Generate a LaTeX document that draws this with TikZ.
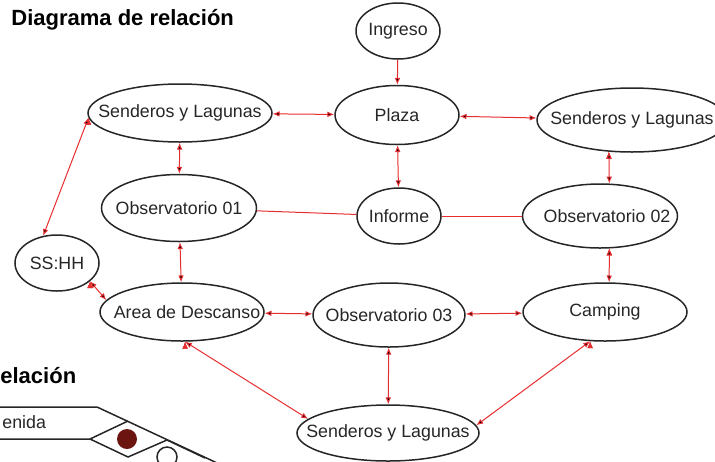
\documentclass[tikz,border=0pt]{standalone}
\usepackage{fontspec}
\setmainfont{Liberation Sans}
\usepackage{tikz}
\usetikzlibrary{arrows.meta,shapes.geometric}
\definecolor{linkred}{RGB}{230,45,48}
\definecolor{dotred}{RGB}{108,20,16}

\begin{document}
\begin{tikzpicture}[x=0.5pt,y=-0.5pt,
  lugar/.style={ellipse,draw=black!85,line width=0.75pt,inner xsep=-14pt,inner ysep=0pt,
    text=black!85,font=\fontsize{8.9}{10}\selectfont},
  chico/.style={lugar,minimum width=42pt,minimum height=28pt},
  plazo/.style={lugar,minimum width=62pt,minimum height=29.5pt},
  medio/.style={lugar,minimum width=77.5pt,minimum height=32pt},
  ancho/.style={lugar,minimum width=82pt,minimum height=29pt},
  largo/.style={lugar,minimum width=92pt,minimum height=29pt},
  tip/.tip={Latex[length=3.4pt,width=2.8pt]},
  doble/.style={draw=linkred,line width=0.5pt,tip-tip},
  flecha/.style={draw=linkred,line width=0.5pt,-tip},
  liso/.style={draw=linkred,line width=0.5pt,-},
  titulo/.style={font=\fontsize{11}{13}\selectfont\bfseries,inner sep=0pt},
  trazo/.style={line width=0.75pt,draw=black!85}]
  \clip (0,0) rectangle (715,461);

  \draw (11,25) node[titulo,anchor=base west] (titulo) {Diagrama de relación};

  % nodos
  \draw (398,31) node[chico] (ingreso) {Ingreso};
  \draw (397,115) node[plazo] (plaza) {Plaza};
  \draw (180,113) node[largo] (sendA) {Senderos y Lagunas};
  \draw (632,120) node[largo,minimum width=95pt,minimum height=32pt] (sendB) {Senderos y Lagunas};
  \draw (179,208) node[medio,minimum height=33.5pt] (obs1) {Observatorio 01};
  \draw (399,216) node[chico] (informe) {Informe};
  \draw (600,216) node[medio] (obs2) {\hspace*{7pt}Observatorio 02};
  \draw (57,263) node[chico] (sshh) {SS:HH};
  \draw (182,312) node[ancho] (area) {\hspace*{5pt}Area de Descanso};
  \draw (389,315) node[medio,minimum width=76pt] (obs3) {Observatorio 03};
  \draw (605,312) node[ancho] (camping) {Camping};
  \draw (388,433) node[largo,minimum width=91pt,minimum height=28pt] (sendC) {Senderos y Lagunas};

  % enlaces
  \path[flecha] (ingreso) edge (plaza);
  \path[doble] (sendA) edge (plaza);
  \path[doble] (plaza) edge (sendB);
  \path[doble] (sendA) edge (obs1);
  \path[doble] (plaza) edge (informe);
  \path[doble] (sendB.234) edge (obs2.74);
  \path[doble] (sendA.183) edge (sshh.117);
  \path[doble] (obs1) edge (area);
  \path[doble] (sshh.-29) edge (area.171);
  \path[doble] (area) edge (obs3);
  \path[doble] (obs3) edge (camping);
  \path[doble] (obs2.-74) edge (camping.82);
  \path[doble] (area.-84) edge (sendC.170);
  \path[doble] (obs3) edge (sendC);
  \path[doble] (camping.243) edge (sendC.5);
  \path[liso] (obs1) edge (informe);
  \path[liso] (informe) edge (obs2);

  % figura de abajo, cortada
  \draw (0,383) node[titulo,anchor=base west] (rel) {elación};
  \draw (2,428) node[anchor=base west,inner sep=0pt,text=black!85,font=\fontsize{8.9}{10}\selectfont] (via) {enida};
  \draw[trazo] (-2,407) -- (97,407) -- (230,469);
  \draw[trazo] (-2,439) -- (90,439) -- (128,421);
  \draw[trazo] (90,439) -- (128,457) -- (167,440) -- (205,458);
  \fill[dotred] (127,439) circle[radius=10];
  \draw[trazo] (167,457) circle[radius=10];
\end{tikzpicture}
\end{document}
